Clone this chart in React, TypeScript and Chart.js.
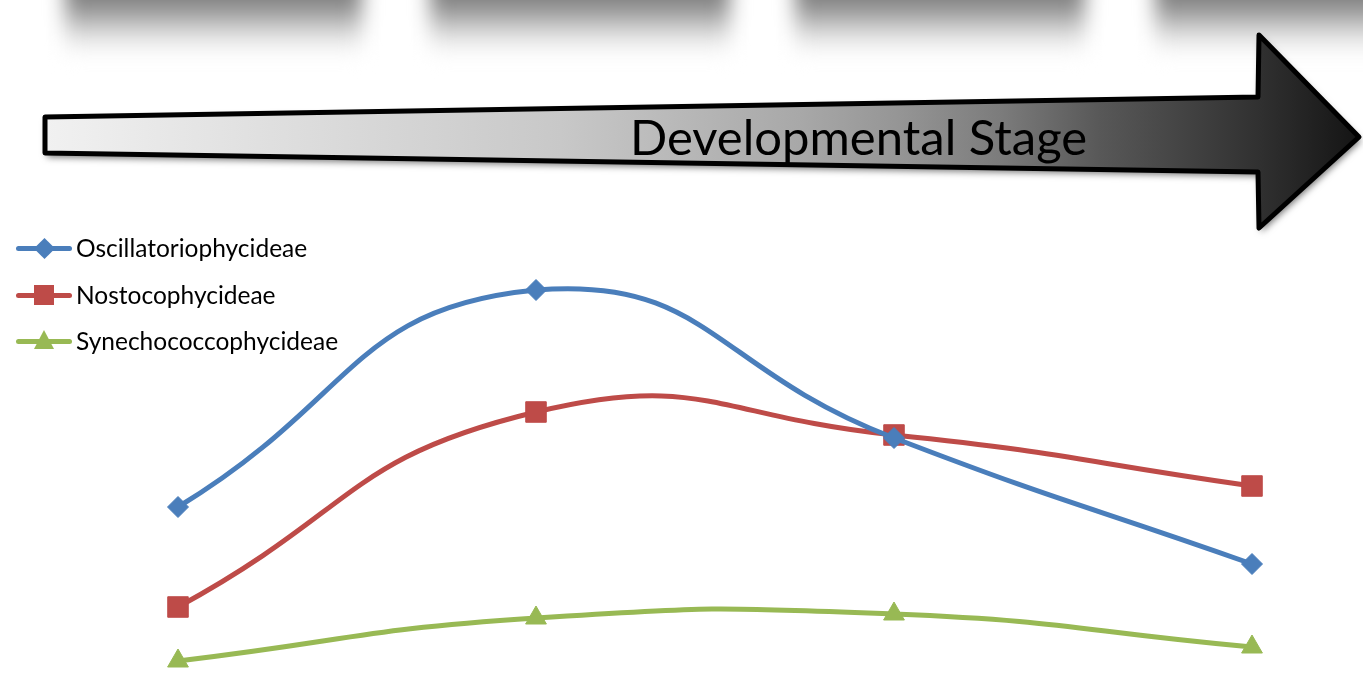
import React, { useEffect, useRef } from "react";
import { Chart, registerables } from "chart.js";

Chart.register(...registerables);

const stages = ["Stage 1", "Stage 2", "Stage 3", "Stage 4"];
const oscillatoriophycideae = [42.25, 96.5, 59.5, 28];
const nostocophycideae = [17.25, 66, 60.25, 47.5];
const synechococcophycideae = [3.75, 14.5, 15.5, 7.25];
const seriesNames = ["Oscillatoriophycideae", "Nostocophycideae", "Synechococcophycideae"];
const seriesColors = ["#4a7ebb", "#be4b48", "#98b954"];
const arrowLabel = "Developmental Stage";

const arrowPlugin = {
  id: "stageArrow",
  beforeDraw(chart: any) {
    const ctx = chart.ctx as CanvasRenderingContext2D;
    ctx.save();
    const g = ctx.createLinearGradient(45, 0, 1360, 0);
    g.addColorStop(0, "#f1f1f1");
    g.addColorStop(0.392, "#c8c8c8");
    g.addColorStop(0.574, "#a8a8a8");
    g.addColorStop(0.65, "#959595");
    g.addColorStop(0.726, "#7c7c7c");
    g.addColorStop(0.802, "#585858");
    g.addColorStop(0.916, "#333333");
    g.addColorStop(1, "#141414");
    ctx.beginPath();
    ctx.moveTo(45, 117);
    ctx.lineTo(1258, 97);
    ctx.lineTo(1259, 35);
    ctx.lineTo(1359, 137);
    ctx.lineTo(1259, 228);
    ctx.lineTo(1258, 172);
    ctx.lineTo(45, 153);
    ctx.closePath();
    ctx.shadowColor = "rgba(0,0,0,0.55)";
    ctx.shadowBlur = 7;
    ctx.shadowOffsetX = 2;
    ctx.shadowOffsetY = 4;
    ctx.fillStyle = g;
    ctx.fill();
    ctx.shadowColor = "transparent";
    ctx.lineJoin = "round";
    ctx.lineWidth = 5;
    ctx.strokeStyle = "#000000";
    ctx.stroke();
    ctx.restore();
  },
};

export default function App() {
  const ref = useRef<HTMLCanvasElement | null>(null);

  useEffect(() => {
    if (!ref.current) return;
    const data = [oscillatoriophycideae, nostocophycideae, synechococcophycideae];
    const styles = ["rectRot", "rect", "triangle"];
    const radii = [10.5, 14.5, 12];
    const chart = new Chart(ref.current, {
      type: "line",
      data: {
        labels: stages,
        datasets: seriesNames.map((name, i) => ({
          label: name,
          data: data[i],
          borderColor: seriesColors[i],
          backgroundColor: seriesColors[i],
          borderWidth: 5,
          tension: 0.5,
          pointStyle: styles[i] as any,
          pointRadius: radii[i],
          pointBorderWidth: 1,
          pointBorderColor: seriesColors[i],
          pointBackgroundColor: seriesColors[i],
          clip: false as any,
          fill: false,
        })),
      },
      options: {
        animation: false,
        responsive: false,
        maintainAspectRatio: false,
        layout: { autoPadding: false, padding: { left: 178, right: 111, top: 276, bottom: 0 } },
        scales: {
          x: { display: false, offset: false },
          y: { display: false, min: 0, max: 100 },
        },
        plugins: { legend: { display: false }, tooltip: { enabled: false } },
        events: [],
      },
      plugins: [arrowPlugin],
    });
    return () => chart.destroy();
  }, []);

  const bands = [
    [65, 362],
    [430, 730],
    [795, 1085],
    [1155, 1420],
  ];
  const legendY = [248, 295, 341];

  return (
    <div style={{ position: "fixed", left: 0, top: 0, width: 1363, height: 676, background: "#ffffff", overflow: "hidden" }}>
      {bands.map(([a, b], i) => (
        <div
          key={i}
          style={{
            position: "absolute",
            left: a,
            top: -25,
            width: b - a,
            height: 80,
            background: "linear-gradient(to bottom, #7a7a7a 0%, #808080 30%, #b4b4b4 55%, #e2e2e2 75%, #ffffff 100%)",
            filter: "blur(10px)",
          }}
        />
      ))}
      <canvas ref={ref} width={1363} height={676} style={{ position: "absolute", left: 0, top: 0 }} />
      <div
        style={{
          position: "absolute",
          left: 630,
          top: 106,
          fontFamily: "Lato, 'Open Sans', sans-serif",
          fontSize: 49,
          lineHeight: "60px",
          color: "#000000",
          whiteSpace: "nowrap",
        }}
      >
        {arrowLabel}
      </div>
      {seriesNames.map((name, i) => (
        <div key={name} style={{ position: "absolute", left: 0, top: legendY[i] - 15, height: 30, width: 400 }}>
          <div style={{ position: "absolute", left: 16, top: 12.5, width: 56, height: 5, borderRadius: 3, background: seriesColors[i] }} />
          {i === 0 && (
            <div style={{ position: "absolute", left: 44 - 7.5, top: 15 - 7.5, width: 15, height: 15, background: seriesColors[i], transform: "rotate(45deg)" }} />
          )}
          {i === 1 && (
            <div style={{ position: "absolute", left: 44 - 10, top: 15 - 10, width: 20, height: 20, background: seriesColors[i] }} />
          )}
          {i === 2 && (
            <div
              style={{
                position: "absolute",
                left: 44 - 10.5,
                top: 15 - 11,
                width: 0,
                height: 0,
                borderLeft: "10.5px solid transparent",
                borderRight: "10.5px solid transparent",
                borderBottom: `19px solid ${seriesColors[i]}`,
              }}
            />
          )}
          <span
            style={{
              position: "absolute",
              left: 76,
              top: 0,
              lineHeight: "30px",
              fontFamily: "Lato, 'Open Sans', sans-serif",
              fontSize: 24.5,
              color: "#000000",
              whiteSpace: "nowrap",
            }}
          >
            {name}
          </span>
        </div>
      ))}
    </div>
  );
}
